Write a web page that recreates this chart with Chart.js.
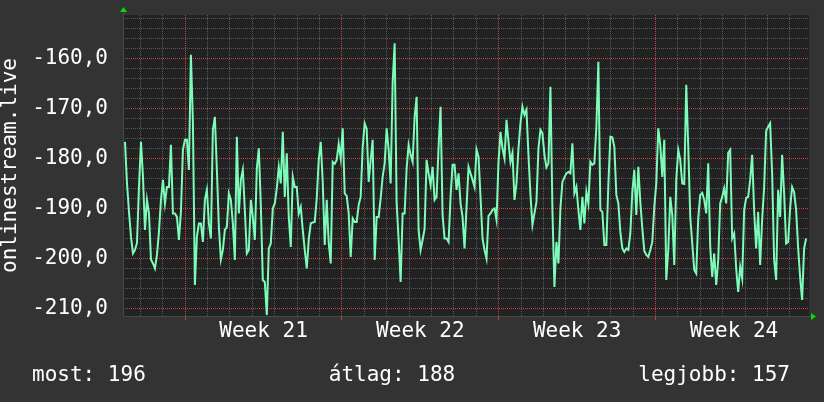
<!DOCTYPE html>
<html>
<head>
<meta charset="utf-8">
<style>
  html, body { margin: 0; padding: 0; background: #333333; }
  canvas { display: block; }
</style>
</head>
<body>
<canvas id="myChart" width="824" height="402"></canvas>
<script src="https://cdn.jsdelivr.net/npm/chart.js@4"></script>
<script>
'use strict';

// samples, one every ~2.14 hours
let values = [
  -176.7, -185, -190.7, -195.7, -199, -198.3, -196.9, -185.7, -176.7, -183.7,
  -194.3, -188.3, -191, -200.2, -201, -202, -199.3, -194.7, -188.3, -184.3,
  -189, -185.7, -185.7, -177.3, -191, -191, -191.7, -196.3, -190.7, -178.3,
  -176.3, -176.3, -182.3, -159.3, -172.7, -205.3, -195.7, -193, -193, -196.7,
  -188.3, -186.3, -193, -196, -174.3, -171.7, -182.3, -193.7, -200.2, -198.3,
  -194.3, -193.7, -187, -188.3, -193, -200.3, -175.7, -191,
  -184.3, -182.3, -190.3, -199, -198.3, -188.3, -191.7, -196.3, -182, -178,
  -189.3, -204.3, -204.7, -211.3, -198, -197, -190, -189, -186, -181.7,
  -185, -174.7, -187.7, -179, -191.7, -197.7, -183.7, -185.7, -185.7, -191,
  -189.7, -194.3, -198.3, -202, -196.2, -193, -192.8, -192.7, -188, -180.3,
  -176.7, -184.7, -197.3, -188.3, -196.9, -201, -180.7, -181.1, -180.3, -177.1,
  -180, -174, -187, -187.5, -191, -199.7, -192,
  -192.7, -192.7, -189.3, -187.7, -177.7, -173, -174.1, -184.7, -180.3, -176.3,
  -200.3, -191.7, -191.7, -188, -183.7, -181, -174, -178.3, -185, -165,
  -157, -188.9, -196.3, -204.7, -191, -191, -182, -177.3, -179.3, -180.7,
  -171.7, -167.7, -194.3, -198.3, -196.3, -194.1, -180.3, -183, -185.3, -181.7,
  -188.3, -187.7, -177.7, -169.7, -191.3, -196, -196, -196.7, -187.7, -181.3,
  -181.3, -186.3, -183, -189, -191.7, -198, -189.7, -181.7,
  -183, -184.3, -185.7, -178.2, -179.7, -187.7, -196, -198.3, -200, -191.5,
  -191, -190.3, -190, -192.3, -180.7, -174.7, -178, -180, -172.3, -176.7,
  -180.7, -178.9, -188.3, -185, -178, -173, -169.7, -171.3, -170.3, -179.3,
  -187.3, -193.3, -191, -188.7, -178, -174.3, -175, -179.3, -181.8, -181,
  -165.7, -190.3, -205.7, -196.7, -201, -190, -184.7, -183.8, -183, -182.7,
  -183, -177, -187, -185.7, -190.3, -194.3, -187.7,
  -193, -186.7, -189, -180.7, -181.3, -181, -173.7, -160.7, -190.3, -190.7,
  -197.3, -197.3, -185.3, -175.7, -175.8, -177.7, -187.3, -189, -194.7, -198,
  -198.7, -198, -198.3, -195, -186.7, -182.3, -191.3, -181.7, -188.7, -194,
  -198.5, -199.3, -199.7, -198.3, -196.7, -189.7, -185, -174, -177.3, -183.7,
  -176.3, -204.3, -198.3, -187.7, -191.3, -201.3, -184.3, -178.3, -180.3, -185,
  -185.1, -165.3, -177.7, -191.7, -197, -202.3, -203, -192,
  -187.3, -186.9, -188.3, -191, -181, -197.7, -203.7, -199, -205.3, -200.3,
  -189, -187.7, -186, -189, -178.9, -178.3, -196, -195, -202, -206.7,
  -201.7, -204, -190.3, -187.9, -187.7, -184.3, -179.3, -190.5, -198, -190.7,
  -201.3, -192.2, -185.7, -174.5, -173.7, -173, -183, -200.3, -204.3, -186.3,
  -191.7, -179.3, -187, -197, -196.7, -190, -185.7, -186.7, -190.3, -197.7,
  -203.7, -208.3, -198, -196
];
let firstSampleHour = 2.14;
let sampleStepHours = 2.14;
let totalHours = 735;

// time axis (hours from the left edge)
let dayLines = [];
for (let d = 0; d < 30; d++) {
  dayLines.push(18.6 + d * 24);
}
let weekStarts = [66.6, 234.6, 402.6, 570.6];
let weekLabels = ['Week 21', 'Week 22', 'Week 23', 'Week 24'];

// value axis
let yMin = -211.5;
let yMax = -151.35;
let yTickStart = -210;
let yMinorStep = 2;
let yMajorStep = 10;

let axisTitle = 'onlinestream.live';
let summaryTexts = ['most: 196', 'átlag: 188', 'legjobb: 157'];

let mono = 'DejaVu Sans Mono';
let textColor = '#ffffff';
let minorGrid = '#5a5a5a';
let majorGrid = '#c84444';
let clear = 'rgba(0,0,0,0)';

// build the points from the samples
let points = [];
for (let i = 0; i < values.length; i++) {
  points.push({ x: firstSampleHour + i * sampleStepHours, y: values[i] });
}

let weekCenters = weekStarts.map(w => w + 84);

function near(list, v) {
  return list.some(c => Math.abs(c - v) < 0.01);
}

// backgrounds, axis lines, arrows and the summary line
let rrdDecor = {
  id: 'rrdDecor',
  beforeDraw(chart) {
    let c = chart.ctx;
    let a = chart.chartArea;
    c.save();
    c.fillStyle = '#333333';
    c.fillRect(0, 0, chart.width, chart.height);
    c.fillStyle = '#222222';
    c.fillRect(a.left, a.top, a.right - a.left, a.bottom - a.top);
    c.restore();
  },
  afterDraw(chart) {
    let c = chart.ctx;
    let a = chart.chartArea;
    c.save();
    c.strokeStyle = '#484848';
    c.lineWidth = 1;
    c.setLineDash([]);
    c.beginPath();
    c.moveTo(a.left + 0.5, a.top - 4);
    c.lineTo(a.left + 0.5, a.bottom + 0.5);
    c.lineTo(a.right + 3, a.bottom + 0.5);
    c.stroke();

    c.fillStyle = '#00dd00';
    c.beginPath();
    c.moveTo(a.left - 3, a.top - 3);
    c.lineTo(a.left + 4, a.top - 3);
    c.lineTo(a.left + 0.5, a.top - 8);
    c.closePath();
    c.fill();
    c.beginPath();
    c.moveTo(a.right + 2, a.bottom - 3);
    c.lineTo(a.right + 2, a.bottom + 4);
    c.lineTo(a.right + 7, a.bottom + 0.5);
    c.closePath();
    c.fill();

    c.fillStyle = textColor;
    c.font = '21px "' + mono + '"';
    c.textBaseline = 'alphabetic';
    c.textAlign = 'left';
    c.fillText(summaryTexts[0], 32, 381);
    c.textAlign = 'center';
    c.fillText(summaryTexts[1], 392, 381);
    c.textAlign = 'right';
    c.fillText(summaryTexts[2], 790, 381);
    c.restore();
  }
};

let ctx = document.getElementById('myChart').getContext('2d');
let myChart = new Chart(ctx, {
  type: 'line',
  data: {
    datasets: [{
      data: points,
      borderColor: '#7dfbb8',
      borderWidth: 2,
      pointRadius: 0,
      tension: 0,
      fill: false
    }]
  },
  options: {
    responsive: false,
    animation: false,
    events: [],
    layout: { padding: { left: 0, top: 15, right: 15, bottom: 0 } },
    plugins: {
      legend: { display: false },
      tooltip: { enabled: false }
    },
    scales: {
      x: {
        type: 'linear',
        min: 0,
        max: totalHours,
        afterBuildTicks(scale) {
          let list = dayLines.concat(weekCenters).sort((p, q) => p - q);
          scale.ticks = list.map(v => ({ value: v }));
        },
        afterFit(scale) {
          scale.height = 86;
          scale.paddingLeft = 0;
          scale.paddingRight = 0;
        },
        grid: {
          drawTicks: true,
          tickLength: 4,
          lineWidth: 1,
          color(context) {
            let v = context.tick ? context.tick.value : null;
            if (v === null || near(weekCenters, v)) return clear;
            return near(weekStarts, v) ? majorGrid : minorGrid;
          },
          tickColor(context) {
            let v = context.tick ? context.tick.value : null;
            return v !== null && near(weekStarts, v) ? majorGrid : clear;
          }
        },
        border: { display: false, dash: [1, 1] },
        ticks: {
          autoSkip: false,
          maxRotation: 0,
          padding: -1,
          color: textColor,
          font: { family: mono, size: 21 },
          callback(value) {
            let i = weekCenters.findIndex(c => Math.abs(c - value) < 0.01);
            return i >= 0 ? weekLabels[i] : '';
          }
        }
      },
      y: {
        min: yMin,
        max: yMax,
        afterBuildTicks(scale) {
          let list = [];
          for (let v = yTickStart; v <= yMax; v += yMinorStep) {
            list.push({ value: v });
          }
          scale.ticks = list;
        },
        afterFit(scale) {
          scale.width = 123;
          scale.paddingTop = 0;
          scale.paddingBottom = 0;
        },
        grid: {
          drawTicks: false,
          lineWidth: 1,
          color(context) {
            let v = context.tick ? context.tick.value : null;
            if (v === null) return clear;
            return Math.abs(v % yMajorStep) < 0.01 ? majorGrid : minorGrid;
          }
        },
        border: { display: false, dash: [1, 1] },
        title: {
          display: true,
          text: axisTitle,
          color: textColor,
          font: { family: mono, size: 21, lineHeight: 1.05 },
          padding: 0
        },
        ticks: {
          autoSkip: false,
          padding: 15,
          color: textColor,
          font: { family: mono, size: 21 },
          callback(value) {
            if (Math.abs(value % yMajorStep) > 0.01) return '';
            return value.toFixed(1).replace('.', ',');
          }
        }
      }
    }
  },
  plugins: [rrdDecor]
});
</script>
</body>
</html>
